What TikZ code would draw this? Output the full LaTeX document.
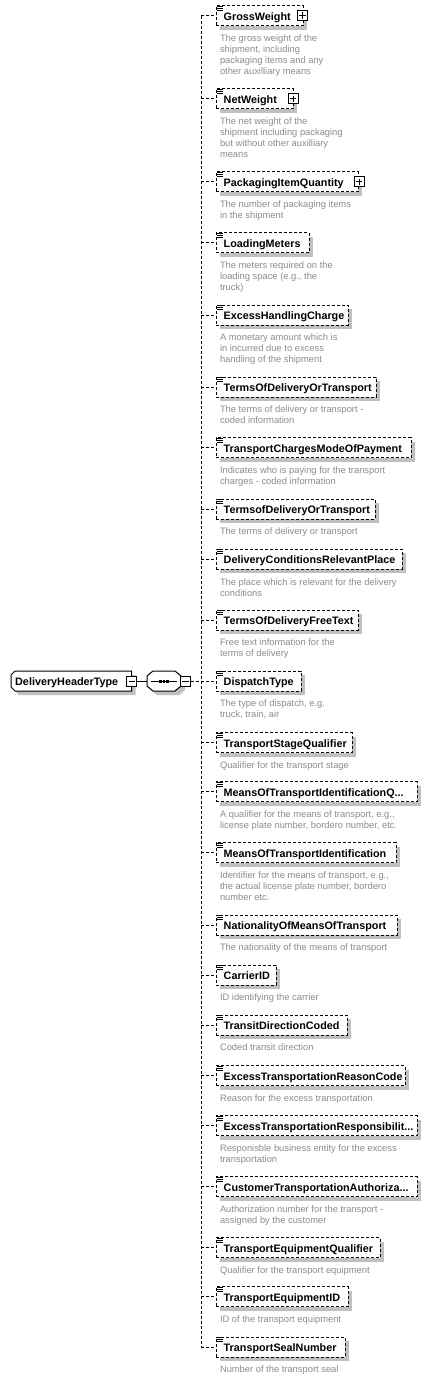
\documentclass[tikz,border=0pt]{standalone}
\usepackage{fontspec}
\setmainfont{Liberation Sans}
\usetikzlibrary{shadows}
\definecolor{shgray}{RGB}{192,192,192}
\definecolor{descgray}{RGB}{140,140,140}
\tikzset{
  x=1pt,y=-1pt,
  dsh/.style={dash pattern=on 3pt off 2pt, line width=0.9pt},
  elbox/.style={draw, dsh, fill=white, anchor=west, minimum height=20pt, inner sep=0pt, outer sep=0pt,
    drop shadow={shadow xshift=4pt, shadow yshift=-4pt, fill=shgray, draw=none, opacity=1}},
  eltext/.style={anchor=base west, inner sep=0pt, font=\fontsize{10.8}{13}\selectfont\bfseries},
  desctext/.style={anchor=north west, inner sep=0pt, align=left, text=descgray, font=\fontsize{9.35}{11}\selectfont},
  conn/.style={dsh},
  pmbox/.style={draw, fill=white, line width=1pt, minimum size=10pt, inner sep=0pt, outer sep=0pt},
  docline/.style={line width=0.8pt},
  solidline/.style={line width=1pt},
}
\newcommand{\elem}[5]{%
  \node[elbox, minimum width={#3-216}] (#1) at (216,#2) {};
  \draw[docline] (217,#2-9.5) -- (222.5,#2-9.5) (217,#2-7.5) -- (222.5,#2-7.5) (217,#2-5.5) -- (222.5,#2-5.5);
  \node[eltext] at (223.5,#2+4.6) {#4};
  \node[desctext] at (219.8,#2+17.5) {\rule{0pt}{8pt}#5};
  \coordinate (j#1) at (201,#2);
  \draw[conn] (j#1) -- (#1.west);
}
\newcommand{\minusbtn}[3]{%
  \node[pmbox] (#1) at (#2,#3) {};
  \draw[line width=1pt] (#1.center) +(-3.2,0) -- +(3.2,0);
}
\newcommand{\plusbtn}[3]{%
  \node[pmbox] (#1) at (#2,#3) {};
  \draw[line width=1pt] (#1.center) +(-3.2,0) -- +(3.2,0) (#1.center) +(0,-3.2) -- +(0,3.2);
}
\begin{document}
\begin{tikzpicture}
\useasboundingbox[fill=white] (0,0) rectangle (431,1379);

% elements
\elem{e1}{15.5}{303}{GrossWeight}{The gross weight of the\\shipment, including\\packaging items and any\\other auxilliary means}
\plusbtn{p1}{302.5}{15.5}
\elem{e2}{98.7}{293}{NetWeight}{The net weight of the\\shipment including packaging\\but without other auxilliary\\means}
\plusbtn{p2}{293}{98.7}
\elem{e3}{181.7}{358}{PackagingItemQuantity}{The number of packaging items\\in the shipment}
\plusbtn{p3}{359}{181.7}
\elem{e4}{242.7}{309}{LoadingMeters}{The meters required on the\\loading space (e.g., the\\truck)}
\elem{e5}{315}{348}{ExcessHandlingCharge}{A monetary amount which is\\in incurred due to excess\\handling of the shipment}
\elem{e6}{387}{376}{TermsOfDeliveryOrTransport}{The terms of delivery or transport -\\coded information}
\elem{e7}{447.7}{411}{TransportChargesModeOfPayment}{Indicates who is paying for the transport\\charges - coded information}
\elem{e8}{509}{375}{TermsofDeliveryOrTransport}{The terms of delivery or transport}
\elem{e9}{559.3}{402}{DeliveryConditionsRelevantPlace}{The place which is relevant for the delivery\\conditions}
\elem{e10}{620}{358}{TermsOfDeliveryFreeText}{Free text information for the\\terms of delivery}
\elem{e11}{681}{301}{DispatchType}{The type of dispatch, e.g.\\truck, train, air}
\elem{e12}{742.7}{352}{TransportStageQualifier}{Qualifier for the transport stage}
\elem{e13}{791.7}{417}{MeansOfTransportIdentificationQ...}{A qualifier for the means of transport, e.g.,\\license plate number, bordero number, etc.}
\elem{e14}{852.7}{396}{MeansOfTransportIdentification}{Identifier for the means of transport, e.g.,\\the actual license plate number, bordero\\number etc.}
\elem{e15}{925}{397}{NationalityOfMeansOfTransport}{The nationality of the means of transport}
\elem{e16}{975}{276}{CarrierID}{ID identifying the carrier}
\elem{e17}{1025}{347}{TransitDirectionCoded}{Coded transit direction}
\elem{e18}{1075.7}{405}{ExcessTransportationReasonCode}{Reason for the excess transportation}
\elem{e19}{1125.7}{417}{ExcessTransportationResponsibilit...}{Responisble business entity for the excess\\transportation}
\elem{e20}{1186.7}{417}{CustomerTransportationAuthoriza...}{Authorization number for the transport -\\assigned by the customer}
\elem{e21}{1247.7}{380}{TransportEquipmentQualifier}{Qualifier for the transport equipment}
\elem{e22}{1296.7}{348}{TransportEquipmentID}{ID of the transport equipment}
\elem{e23}{1347}{345}{TransportSealNumber}{Number of the transport seal}

% vertical bus
\draw[conn] (je1) -- (je23);

% root element
\node[inner sep=0pt, minimum width=120.7pt, minimum height=20pt] (root) at (71.35,681) {};
\fill[shgray] (19,675) -- (135.7,675) -- (135.7,695) -- (19,695) -- (15,691) -- (15,679) -- cycle;
\draw[solidline, fill=white] (15,671) -- (131.7,671) -- (131.7,691) -- (15,691) -- (11,687) -- (11,675) -- cycle;
\node[eltext] at (15,685.6) {DeliveryHeaderType};
\minusbtn{rootm}{131.7}{681}

% sequence compositor
\node[inner sep=0pt, minimum width=34pt, minimum height=20pt] (seq) at (164,681) {};
\fill[shgray] (157,675) -- (179,675) -- (185,680) -- (185,690) -- (179,695) -- (157,695) -- (151,690) -- (151,680) -- cycle;
\draw[solidline, fill=white] (153,671) -- (175,671) -- (181,676) -- (181,686) -- (175,691) -- (153,691) -- (147,686) -- (147,676) -- cycle;
\draw[line width=1pt] (151,681) -- (177,681);
\fill (159.4,679.5) rectangle +(2.6,3);
\fill (162.7,679.5) rectangle +(2.6,3);
\fill (166,679.5) rectangle +(2.6,3);
\minusbtn{seqm}{185.5}{681}

\draw[solidline] (rootm.east) -- (seq.west);
\draw[conn] (seqm.east) -- (je11);
\end{tikzpicture}
\end{document}
